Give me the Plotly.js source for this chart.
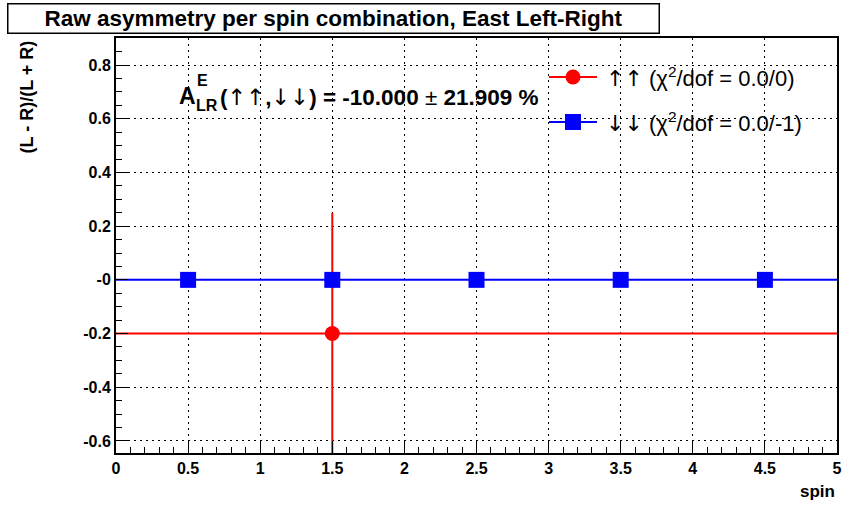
<!DOCTYPE html>
<html>
<head>
<meta charset="utf-8">
<script src="https://cdn.plot.ly/plotly-3.0.1.min.js"></script>
<style>html,body{margin:0;padding:0;background:#fff;}#chart{width:844px;height:506px;}</style>
</head>
<body>
<div id="chart"></div>
<script>
// ---- data ----
const upupX = [1.5];
const upupY = [-0.2];
const upupErr = [0.45];
const upupFit = -0.2;
const dndnX = [0.5, 1.5, 2.5, 3.5, 4.5];
const dndnY = [0, 0, 0, 0, 0];
const dndnFit = 0;
const fitRange = [0, 5];
const xTickVals = [0, 0.5, 1, 1.5, 2, 2.5, 3, 3.5, 4, 4.5, 5];
const xTickText = ["0", "0.5", "1", "1.5", "2", "2.5", "3", "3.5", "4", "4.5", "5"];
const yTickVals = [-0.6, -0.4, -0.2, 0, 0.2, 0.4, 0.6, 0.8];
const yTickText = ["-0.6", "-0.4", "-0.2", "-0", "0.2", "0.4", "0.6", "0.8"];
const titleText = "Raw asymmetry per spin combination, East Left-Right";
const yTitle = "(L - R)/(L + R)";
const xTitle = "spin";
const ARW = s => '<span style="font-family:DejaVu Sans;font-weight:normal">' + s + '</span>';
const legendUp = ARW("↑↑") + " (χ<sup>2</sup>/dof = 0.0/0)";
const legendDn = ARW("↓↓") + " (χ<sup>2</sup>/dof = 0.0/-1)";
const resultText = "<b>(</b>" + ARW("↑↑") + "<b>,</b>" + ARW("↓↓") + "<b>) = -10.000 </b>±<b> 21.909 %</b>";

// ---- layout helpers (pixel -> paper) ----
const L = 116, R = 837, T = 38, B = 453;
const px = X => (X - L) / (R - L);
const py = Y => (B - Y) / (B - T);
const FONT = "Liberation Sans, Arial, Helvetica, sans-serif";
const RED = "#ff0000", BLUE = "#0000ff";

const traces = [
  {x: fitRange, y: [upupFit, upupFit], mode: "lines", line: {color: RED, width: 2}, showlegend: false, hoverinfo: "skip"},
  {x: fitRange, y: [dndnFit, dndnFit], mode: "lines", line: {color: BLUE, width: 2}, showlegend: false, hoverinfo: "skip"},
  {x: upupX, y: upupY, mode: "markers", marker: {symbol: "circle", size: 15, color: RED},
   error_y: {type: "data", array: upupErr, color: RED, thickness: 2, width: 0}, showlegend: false},
  {x: dndnX, y: dndnY, mode: "markers", marker: {symbol: "square", size: 16, color: BLUE}, showlegend: false}
];

const axisCommon = {
  showline: true, linecolor: "#000", linewidth: 2, mirror: true,
  ticks: "inside", ticklen: 12, tickwidth: 1, tickcolor: "#000",
  showgrid: true, gridcolor: "#000", gridwidth: 1, griddash: "2px,4px",
  zeroline: false,
  tickfont: {family: FONT, size: 16, color: "#000", weight: "bold"},
  tickmode: "array"
};

const layout = {
  width: 844, height: 506,
  margin: {l: L, r: 844 - R, t: T, b: 506 - B},
  paper_bgcolor: "#fff", plot_bgcolor: "#fff",
  showlegend: false,
  xaxis: Object.assign({}, axisCommon, {
    range: [0, 5], tickvals: xTickVals, ticktext: xTickText,
    minor: {dtick: 0.1, ticks: "inside", ticklen: 6, tickcolor: "#000", showgrid: false}
  }),
  yaxis: Object.assign({}, axisCommon, {
    range: [-0.645, 0.901], tickvals: yTickVals, ticktext: yTickText,
    minor: {dtick: 0.05, ticks: "inside", ticklen: 6, tickcolor: "#000", showgrid: false}
  }),
  shapes: [
    {type: "line", xref: "paper", yref: "paper", x0: px(549), x1: px(597), y0: py(77), y1: py(77), line: {color: RED, width: 2}},
    {type: "circle", xref: "paper", yref: "paper", xsizemode: "pixel", ysizemode: "pixel",
     xanchor: px(573), yanchor: py(77), x0: -7.5, x1: 7.5, y0: -7.5, y1: 7.5, fillcolor: RED, line: {width: 0}},
    {type: "line", xref: "paper", yref: "paper", x0: px(549), x1: px(597), y0: py(122), y1: py(122), line: {color: BLUE, width: 2}},
    {type: "rect", xref: "paper", yref: "paper", xsizemode: "pixel", ysizemode: "pixel",
     xanchor: px(573), yanchor: py(122), x0: -8, x1: 8, y0: -8, y1: 8, fillcolor: BLUE, line: {width: 0}}
  ],
  annotations: [
    {text: "<b>" + titleText + "</b>", xref: "paper", yref: "paper", x: px(7), y: py(3), xanchor: "left", yanchor: "top",
     showarrow: false, width: 648, height: 26, align: "center", valign: "middle",
     bordercolor: "#000", borderwidth: 1.5, borderpad: 1, bgcolor: "#fff",
     font: {family: FONT, size: 22.5, color: "#000"}},
    {text: "<b>" + yTitle + "</b>", xref: "paper", yref: "paper", x: px(27), y: py(39), xanchor: "center", yanchor: "top",
     textangle: -90, showarrow: false, font: {family: FONT, size: 18, color: "#000"}},
    {text: "<b>" + xTitle + "</b>", xref: "paper", yref: "paper", x: px(837), y: py(491), xanchor: "right", yanchor: "middle",
     showarrow: false, font: {family: FONT, size: 17, color: "#000"}},
    {text: "<b>A</b>", xref: "paper", yref: "paper", x: px(177), y: py(96), xanchor: "left", yanchor: "middle",
     showarrow: false, font: {family: FONT, size: 23, color: "#000"}},
    {text: "<b>E</b>", xref: "paper", yref: "paper", x: px(195), y: py(80), xanchor: "left", yanchor: "middle",
     showarrow: false, font: {family: FONT, size: 16, color: "#000"}},
    {text: "<b>LR</b>", xref: "paper", yref: "paper", x: px(194), y: py(106), xanchor: "left", yanchor: "middle",
     showarrow: false, font: {family: FONT, size: 16, color: "#000"}},
    {text: resultText, xref: "paper", yref: "paper", x: px(218), y: py(97), xanchor: "left", yanchor: "middle",
     showarrow: false, font: {family: FONT, size: 22.5, color: "#000"}},
    {text: legendUp, xref: "paper", yref: "paper", x: px(604), y: py(77), xanchor: "left", yanchor: "middle",
     showarrow: false, font: {family: FONT, size: 22, color: "#000"}},
    {text: legendDn, xref: "paper", yref: "paper", x: px(604), y: py(122), xanchor: "left", yanchor: "middle",
     showarrow: false, font: {family: FONT, size: 22, color: "#000"}}
  ]
};

Plotly.newPlot("chart", traces, layout, {staticPlot: true, displayModeBar: false});
</script>
</body>
</html>
